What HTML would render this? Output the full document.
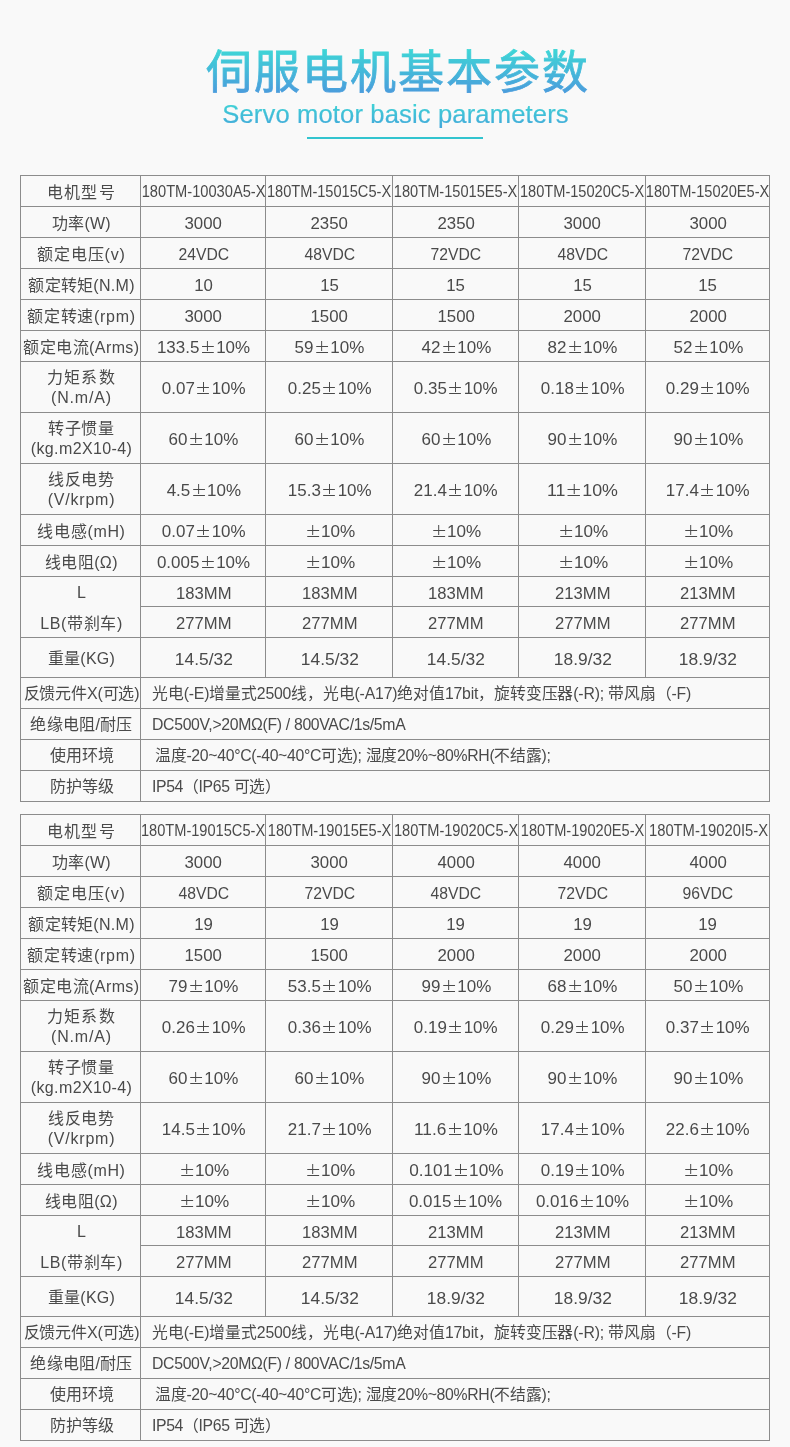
<!DOCTYPE html>
<html lang="zh-CN"><head><meta charset="utf-8">
<style>
html,body{margin:0;padding:0;}
main{position:absolute;left:0;top:0;width:790px;height:1447px;will-change:transform;}
body{width:790px;height:1447px;overflow:hidden;background:#f9f9f9;position:relative;font-family:"Liberation Sans",sans-serif;color:#4a4a4a;}
i{position:absolute;display:block;background:#8c8c8c;}
div{position:absolute;display:flex;align-items:center;justify-content:center;text-align:center;white-space:nowrap;box-sizing:border-box;}
div p{margin:0;}
div.d,div.m{padding-left:2px;}
div.h,div.lb{font-size:16px;line-height:21.5px;padding-top:4px;padding-left:3px;}
div.hb{padding-top:2px;font-size:16px;}
div.wd{padding-top:3px;}
div.h2{padding-top:2.3px;line-height:19.9px;}
div.d{font-size:17.3px;line-height:20px;padding-top:3px;}
div span.s{display:inline-block;transform-origin:50% 50%;}
div.m{font-size:16px;line-height:20px;padding-top:2px;}
div.wd{font-size:15.8px;line-height:20px;justify-content:flex-start;text-align:left;padding-left:12px;}
div.lb{line-height:31px;padding-top:3px;}
div.w2{padding-left:15px;}
b.pm{display:inline-block;width:16.85px;height:14px;vertical-align:-1px;
 background:linear-gradient(#4a4a4a,#4a4a4a) 8px 1px/1.2px 10px no-repeat,
 linear-gradient(#4a4a4a,#4a4a4a) 2.5px 5.5px/12px 1.2px no-repeat,
 linear-gradient(#4a4a4a,#4a4a4a) 2.5px 12px/12px 1.4px no-repeat;}
svg.tt{position:absolute;left:0;top:0;font-family:"Liberation Sans",sans-serif;}
.ul{position:absolute;left:307px;top:137px;width:176px;height:2px;background:#32c4cf;}
</style></head><body>
<main>
<svg class="tt" width="790" height="150" viewBox="0 0 790 150">
<defs>
<linearGradient id="g1" x1="0" y1="48" x2="0" y2="93" gradientUnits="userSpaceOnUse"><stop offset="0" stop-color="#3ed8d6"/><stop offset="1" stop-color="#4a9cdc"/></linearGradient>
<linearGradient id="g2" x1="0" y1="105" x2="0" y2="128" gradientUnits="userSpaceOnUse"><stop offset="0" stop-color="#3fd0d6"/><stop offset="1" stop-color="#43a6da"/></linearGradient>
</defs>
<text x="398.2" y="87.7" text-anchor="middle" font-size="46" letter-spacing="1.95" fill="url(#g1)" stroke="url(#g1)" stroke-width="0.8">伺服电机基本参数</text>
<text x="395.5" y="123.4" text-anchor="middle" font-size="25.6" letter-spacing="0.13" fill="url(#g2)" stroke="url(#g2)" stroke-width="0.2">Servo motor basic parameters</text>
</svg>
<b class="ul"></b>
<i style="left:20px;top:175px;width:750px;height:1px"></i>
<i style="left:20px;top:206px;width:750px;height:1px"></i>
<i style="left:20px;top:237px;width:750px;height:1px"></i>
<i style="left:20px;top:268px;width:750px;height:1px"></i>
<i style="left:20px;top:299px;width:750px;height:1px"></i>
<i style="left:20px;top:330px;width:750px;height:1px"></i>
<i style="left:20px;top:361px;width:750px;height:1px"></i>
<i style="left:20px;top:412px;width:750px;height:1px"></i>
<i style="left:20px;top:463px;width:750px;height:1px"></i>
<i style="left:20px;top:514px;width:750px;height:1px"></i>
<i style="left:20px;top:545px;width:750px;height:1px"></i>
<i style="left:20px;top:576px;width:750px;height:1px"></i>
<i style="left:140px;top:606px;width:630px;height:1px"></i>
<i style="left:20px;top:637px;width:750px;height:1px"></i>
<i style="left:20px;top:677px;width:750px;height:1px"></i>
<i style="left:20px;top:708px;width:750px;height:1px"></i>
<i style="left:20px;top:739px;width:750px;height:1px"></i>
<i style="left:20px;top:770px;width:750px;height:1px"></i>
<i style="left:20px;top:801px;width:750px;height:1px"></i>
<i style="left:20px;top:175px;width:1px;height:627px"></i>
<i style="left:769px;top:175px;width:1px;height:627px"></i>
<i style="left:140px;top:175px;width:1px;height:627px"></i>
<i style="left:265px;top:175px;width:1px;height:503px"></i>
<i style="left:392px;top:175px;width:1px;height:503px"></i>
<i style="left:518px;top:175px;width:1px;height:503px"></i>
<i style="left:645px;top:175px;width:1px;height:503px"></i>
<i style="left:20px;top:814px;width:750px;height:1px"></i>
<i style="left:20px;top:845px;width:750px;height:1px"></i>
<i style="left:20px;top:876px;width:750px;height:1px"></i>
<i style="left:20px;top:907px;width:750px;height:1px"></i>
<i style="left:20px;top:938px;width:750px;height:1px"></i>
<i style="left:20px;top:969px;width:750px;height:1px"></i>
<i style="left:20px;top:1000px;width:750px;height:1px"></i>
<i style="left:20px;top:1051px;width:750px;height:1px"></i>
<i style="left:20px;top:1102px;width:750px;height:1px"></i>
<i style="left:20px;top:1153px;width:750px;height:1px"></i>
<i style="left:20px;top:1184px;width:750px;height:1px"></i>
<i style="left:20px;top:1215px;width:750px;height:1px"></i>
<i style="left:140px;top:1245px;width:630px;height:1px"></i>
<i style="left:20px;top:1276px;width:750px;height:1px"></i>
<i style="left:20px;top:1316px;width:750px;height:1px"></i>
<i style="left:20px;top:1347px;width:750px;height:1px"></i>
<i style="left:20px;top:1378px;width:750px;height:1px"></i>
<i style="left:20px;top:1409px;width:750px;height:1px"></i>
<i style="left:20px;top:1440px;width:750px;height:1px"></i>
<i style="left:20px;top:814px;width:1px;height:627px"></i>
<i style="left:769px;top:814px;width:1px;height:627px"></i>
<i style="left:140px;top:814px;width:1px;height:627px"></i>
<i style="left:265px;top:814px;width:1px;height:503px"></i>
<i style="left:392px;top:814px;width:1px;height:503px"></i>
<i style="left:518px;top:814px;width:1px;height:503px"></i>
<i style="left:645px;top:814px;width:1px;height:503px"></i>
<div class="h" style="left:20px;top:175px;width:120px;height:31px"><p><span style="letter-spacing:1.434px">电机型号</span></p></div>
<div class="m" style="left:140px;top:175px;width:125px;height:31px"><p><span class="s" style="transform:scaleX(0.9156)">180TM-10030A5-X</span></p></div>
<div class="m" style="left:265px;top:175px;width:127px;height:31px"><p><span class="s" style="transform:scaleX(0.9128)">180TM-15015C5-X</span></p></div>
<div class="m" style="left:392px;top:175px;width:126px;height:31px"><p><span class="s" style="transform:scaleX(0.9134)">180TM-15015E5-X</span></p></div>
<div class="m" style="left:518px;top:175px;width:127px;height:31px"><p><span class="s" style="transform:scaleX(0.9128)">180TM-15020C5-X</span></p></div>
<div class="m" style="left:645px;top:175px;width:124px;height:31px"><p><span class="s" style="transform:scaleX(0.9134)">180TM-15020E5-X</span></p></div>
<div class="h" style="left:20px;top:206px;width:120px;height:31px"><p><span style="letter-spacing:0.122px">功率(W)</span></p></div>
<div class="d" style="left:140px;top:206px;width:125px;height:31px"><p><span class="s" style="transform:scaleX(0.9728)">3000</span></p></div>
<div class="d" style="left:265px;top:206px;width:127px;height:31px"><p><span class="s" style="transform:scaleX(0.9728)">2350</span></p></div>
<div class="d" style="left:392px;top:206px;width:126px;height:31px"><p><span class="s" style="transform:scaleX(0.9728)">2350</span></p></div>
<div class="d" style="left:518px;top:206px;width:127px;height:31px"><p><span class="s" style="transform:scaleX(0.9728)">3000</span></p></div>
<div class="d" style="left:645px;top:206px;width:124px;height:31px"><p><span class="s" style="transform:scaleX(0.9728)">3000</span></p></div>
<div class="h" style="left:20px;top:237px;width:120px;height:31px"><p><span style="letter-spacing:0.823px">额定电压(v)</span></p></div>
<div class="d" style="left:140px;top:237px;width:125px;height:31px"><p><span class="s" style="transform:scaleX(0.9103)">24VDC</span></p></div>
<div class="d" style="left:265px;top:237px;width:127px;height:31px"><p><span class="s" style="transform:scaleX(0.9103)">48VDC</span></p></div>
<div class="d" style="left:392px;top:237px;width:126px;height:31px"><p><span class="s" style="transform:scaleX(0.9103)">72VDC</span></p></div>
<div class="d" style="left:518px;top:237px;width:127px;height:31px"><p><span class="s" style="transform:scaleX(0.9103)">48VDC</span></p></div>
<div class="d" style="left:645px;top:237px;width:124px;height:31px"><p><span class="s" style="transform:scaleX(0.9103)">72VDC</span></p></div>
<div class="h" style="left:20px;top:268px;width:120px;height:31px"><p><span style="letter-spacing:0.283px">额定转矩(N.M)</span></p></div>
<div class="d" style="left:140px;top:268px;width:125px;height:31px"><p><span class="s" style="transform:scaleX(0.9724)">10</span></p></div>
<div class="d" style="left:265px;top:268px;width:127px;height:31px"><p><span class="s" style="transform:scaleX(0.9724)">15</span></p></div>
<div class="d" style="left:392px;top:268px;width:126px;height:31px"><p><span class="s" style="transform:scaleX(0.9724)">15</span></p></div>
<div class="d" style="left:518px;top:268px;width:127px;height:31px"><p><span class="s" style="transform:scaleX(0.9724)">15</span></p></div>
<div class="d" style="left:645px;top:268px;width:124px;height:31px"><p><span class="s" style="transform:scaleX(0.9724)">15</span></p></div>
<div class="h" style="left:20px;top:299px;width:120px;height:31px"><p><span style="letter-spacing:0.694px">额定转速(rpm)</span></p></div>
<div class="d" style="left:140px;top:299px;width:125px;height:31px"><p><span class="s" style="transform:scaleX(0.9728)">3000</span></p></div>
<div class="d" style="left:265px;top:299px;width:127px;height:31px"><p><span class="s" style="transform:scaleX(0.9728)">1500</span></p></div>
<div class="d" style="left:392px;top:299px;width:126px;height:31px"><p><span class="s" style="transform:scaleX(0.9728)">1500</span></p></div>
<div class="d" style="left:518px;top:299px;width:127px;height:31px"><p><span class="s" style="transform:scaleX(0.9728)">2000</span></p></div>
<div class="d" style="left:645px;top:299px;width:124px;height:31px"><p><span class="s" style="transform:scaleX(0.9728)">2000</span></p></div>
<div class="h" style="left:20px;top:330px;width:120px;height:31px"><p><span style="letter-spacing:0.408px">额定电流(Arms)</span></p></div>
<div class="d" style="left:140px;top:330px;width:125px;height:31px"><p><span class="s" style="transform:scaleX(0.9801)">133.5<b class="pm" style="width:17.19px"></b>10%</span></p></div>
<div class="d" style="left:265px;top:330px;width:127px;height:31px"><p><span class="s" style="transform:scaleX(0.9834)">59<b class="pm" style="width:17.13px"></b>10%</span></p></div>
<div class="d" style="left:392px;top:330px;width:126px;height:31px"><p><span class="s" style="transform:scaleX(0.9834)">42<b class="pm" style="width:17.13px"></b>10%</span></p></div>
<div class="d" style="left:518px;top:330px;width:127px;height:31px"><p><span class="s" style="transform:scaleX(0.9834)">82<b class="pm" style="width:17.13px"></b>10%</span></p></div>
<div class="d" style="left:645px;top:330px;width:124px;height:31px"><p><span class="s" style="transform:scaleX(0.9834)">52<b class="pm" style="width:17.13px"></b>10%</span></p></div>
<div class="h h2" style="left:20px;top:361px;width:120px;height:51px"><p><span style="letter-spacing:1.267px">力矩系数</span><br><span style="letter-spacing:0.810px">(N.m/A)</span></p></div>
<div class="d" style="left:140px;top:361px;width:125px;height:51px"><p><span class="s" style="transform:scaleX(0.9810)">0.07<b class="pm" style="width:17.18px"></b>10%</span></p></div>
<div class="d" style="left:265px;top:361px;width:127px;height:51px"><p><span class="s" style="transform:scaleX(0.9810)">0.25<b class="pm" style="width:17.18px"></b>10%</span></p></div>
<div class="d" style="left:392px;top:361px;width:126px;height:51px"><p><span class="s" style="transform:scaleX(0.9810)">0.35<b class="pm" style="width:17.18px"></b>10%</span></p></div>
<div class="d" style="left:518px;top:361px;width:127px;height:51px"><p><span class="s" style="transform:scaleX(0.9810)">0.18<b class="pm" style="width:17.18px"></b>10%</span></p></div>
<div class="d" style="left:645px;top:361px;width:124px;height:51px"><p><span class="s" style="transform:scaleX(0.9810)">0.29<b class="pm" style="width:17.18px"></b>10%</span></p></div>
<div class="h h2" style="left:20px;top:412px;width:120px;height:51px"><p><span style="letter-spacing:0.601px">转子惯量</span><br><span style="letter-spacing:0.391px">(kg.m2X10-4)</span></p></div>
<div class="d" style="left:140px;top:412px;width:125px;height:51px"><p><span class="s" style="transform:scaleX(0.9834)">60<b class="pm" style="width:17.13px"></b>10%</span></p></div>
<div class="d" style="left:265px;top:412px;width:127px;height:51px"><p><span class="s" style="transform:scaleX(0.9834)">60<b class="pm" style="width:17.13px"></b>10%</span></p></div>
<div class="d" style="left:392px;top:412px;width:126px;height:51px"><p><span class="s" style="transform:scaleX(0.9834)">60<b class="pm" style="width:17.13px"></b>10%</span></p></div>
<div class="d" style="left:518px;top:412px;width:127px;height:51px"><p><span class="s" style="transform:scaleX(0.9834)">90<b class="pm" style="width:17.13px"></b>10%</span></p></div>
<div class="d" style="left:645px;top:412px;width:124px;height:51px"><p><span class="s" style="transform:scaleX(0.9834)">90<b class="pm" style="width:17.13px"></b>10%</span></p></div>
<div class="h h2" style="left:20px;top:463px;width:120px;height:51px"><p><span style="letter-spacing:0.834px">线反电势</span><br><span style="letter-spacing:0.789px">(V/krpm)</span></p></div>
<div class="d" style="left:140px;top:463px;width:125px;height:51px"><p><span class="s" style="transform:scaleX(0.9824)">4.5<b class="pm" style="width:17.15px"></b>10%</span></p></div>
<div class="d" style="left:265px;top:463px;width:127px;height:51px"><p><span class="s" style="transform:scaleX(0.9810)">15.3<b class="pm" style="width:17.18px"></b>10%</span></p></div>
<div class="d" style="left:392px;top:463px;width:126px;height:51px"><p><span class="s" style="transform:scaleX(0.9810)">21.4<b class="pm" style="width:17.18px"></b>10%</span></p></div>
<div class="d" style="left:518px;top:463px;width:127px;height:51px"><p><span class="s" style="transform:scaleX(1.0326)">11<b class="pm" style="width:16.32px"></b>10%</span></p></div>
<div class="d" style="left:645px;top:463px;width:124px;height:51px"><p><span class="s" style="transform:scaleX(0.9810)">17.4<b class="pm" style="width:17.18px"></b>10%</span></p></div>
<div class="h" style="left:20px;top:514px;width:120px;height:31px"><p><span style="letter-spacing:0.666px">线电感(mH)</span></p></div>
<div class="d" style="left:140px;top:514px;width:125px;height:31px"><p><span class="s" style="transform:scaleX(0.9810)">0.07<b class="pm" style="width:17.18px"></b>10%</span></p></div>
<div class="d" style="left:265px;top:514px;width:127px;height:31px"><p><span class="s" style="transform:scaleX(0.9892)"><b class="pm" style="width:17.03px"></b>10%</span></p></div>
<div class="d" style="left:392px;top:514px;width:126px;height:31px"><p><span class="s" style="transform:scaleX(0.9892)"><b class="pm" style="width:17.03px"></b>10%</span></p></div>
<div class="d" style="left:518px;top:514px;width:127px;height:31px"><p><span class="s" style="transform:scaleX(0.9892)"><b class="pm" style="width:17.03px"></b>10%</span></p></div>
<div class="d" style="left:645px;top:514px;width:124px;height:31px"><p><span class="s" style="transform:scaleX(0.9892)"><b class="pm" style="width:17.03px"></b>10%</span></p></div>
<div class="h" style="left:20px;top:545px;width:120px;height:31px"><p><span style="letter-spacing:0.354px">线电阻(Ω)</span></p></div>
<div class="d" style="left:140px;top:545px;width:125px;height:31px"><p><span class="s" style="transform:scaleX(0.9801)">0.005<b class="pm" style="width:17.19px"></b>10%</span></p></div>
<div class="d" style="left:265px;top:545px;width:127px;height:31px"><p><span class="s" style="transform:scaleX(0.9892)"><b class="pm" style="width:17.03px"></b>10%</span></p></div>
<div class="d" style="left:392px;top:545px;width:126px;height:31px"><p><span class="s" style="transform:scaleX(0.9892)"><b class="pm" style="width:17.03px"></b>10%</span></p></div>
<div class="d" style="left:518px;top:545px;width:127px;height:31px"><p><span class="s" style="transform:scaleX(0.9892)"><b class="pm" style="width:17.03px"></b>10%</span></p></div>
<div class="d" style="left:645px;top:545px;width:124px;height:31px"><p><span class="s" style="transform:scaleX(0.9892)"><b class="pm" style="width:17.03px"></b>10%</span></p></div>
<div class="lb" style="left:20px;top:576px;width:120px;height:61px"><p><span style="letter-spacing:0.094px">L</span><br><span style="letter-spacing:0.637px">LB(带刹车)</span></p></div>
<div class="d" style="left:140px;top:576px;width:125px;height:30px"><p><span class="s" style="transform:scaleX(0.9615)">183MM</span></p></div>
<div class="d" style="left:265px;top:576px;width:127px;height:30px"><p><span class="s" style="transform:scaleX(0.9615)">183MM</span></p></div>
<div class="d" style="left:392px;top:576px;width:126px;height:30px"><p><span class="s" style="transform:scaleX(0.9615)">183MM</span></p></div>
<div class="d" style="left:518px;top:576px;width:127px;height:30px"><p><span class="s" style="transform:scaleX(0.9615)">213MM</span></p></div>
<div class="d" style="left:645px;top:576px;width:124px;height:30px"><p><span class="s" style="transform:scaleX(0.9615)">213MM</span></p></div>
<div class="d" style="left:140px;top:606px;width:125px;height:31px"><p><span class="s" style="transform:scaleX(0.9615)">277MM</span></p></div>
<div class="d" style="left:265px;top:606px;width:127px;height:31px"><p><span class="s" style="transform:scaleX(0.9615)">277MM</span></p></div>
<div class="d" style="left:392px;top:606px;width:126px;height:31px"><p><span class="s" style="transform:scaleX(0.9615)">277MM</span></p></div>
<div class="d" style="left:518px;top:606px;width:127px;height:31px"><p><span class="s" style="transform:scaleX(0.9615)">277MM</span></p></div>
<div class="d" style="left:645px;top:606px;width:124px;height:31px"><p><span class="s" style="transform:scaleX(0.9615)">277MM</span></p></div>
<div class="h" style="left:20px;top:637px;width:120px;height:40px"><p><span style="letter-spacing:0.234px">重量(KG)</span></p></div>
<div class="d" style="left:140px;top:637px;width:125px;height:40px"><p><span class="s" style="transform:scaleX(1.0062)">14.5/32</span></p></div>
<div class="d" style="left:265px;top:637px;width:127px;height:40px"><p><span class="s" style="transform:scaleX(1.0062)">14.5/32</span></p></div>
<div class="d" style="left:392px;top:637px;width:126px;height:40px"><p><span class="s" style="transform:scaleX(1.0062)">14.5/32</span></p></div>
<div class="d" style="left:518px;top:637px;width:127px;height:40px"><p><span class="s" style="transform:scaleX(1.0062)">18.9/32</span></p></div>
<div class="d" style="left:645px;top:637px;width:124px;height:40px"><p><span class="s" style="transform:scaleX(1.0062)">18.9/32</span></p></div>
<div class="hb h" style="left:20px;top:677px;width:120px;height:31px"><p><span style="letter-spacing:-0.149px">反馈元件X(可选)</span></p></div>
<div class="wd w0" style="left:140px;top:677px;width:629px;height:31px"><p><span style="letter-spacing:-0.172px">光电(-E)增量式2500线，光电(-A17)绝对值17bit，旋转变压器(-R); 带风扇（-F)</span></p></div>
<div class="hb h" style="left:20px;top:708px;width:120px;height:31px"><p><span style="letter-spacing:0.261px">绝缘电阻/耐压</span></p></div>
<div class="wd w1" style="left:140px;top:708px;width:629px;height:31px"><p><span style="letter-spacing:-0.323px">DC500V,&gt;20MΩ(F) / 800VAC/1s/5mA</span></p></div>
<div class="hb h" style="left:20px;top:739px;width:120px;height:31px"><p><span>使用环境</span></p></div>
<div class="wd w2" style="left:140px;top:739px;width:629px;height:31px"><p><span style="letter-spacing:-0.310px">温度-20~40°C(-40~40°C可选); 湿度20%~80%RH(不结露);</span></p></div>
<div class="hb h" style="left:20px;top:770px;width:120px;height:31px"><p><span>防护等级</span></p></div>
<div class="wd w3" style="left:140px;top:770px;width:629px;height:31px"><p><span style="letter-spacing:-0.380px">IP54（IP65 可选）</span></p></div>
<div class="h" style="left:20px;top:814px;width:120px;height:31px"><p><span style="letter-spacing:1.434px">电机型号</span></p></div>
<div class="m" style="left:140px;top:814px;width:125px;height:31px"><p><span class="s" style="transform:scaleX(0.9128)">180TM-19015C5-X</span></p></div>
<div class="m" style="left:265px;top:814px;width:127px;height:31px"><p><span class="s" style="transform:scaleX(0.9134)">180TM-19015E5-X</span></p></div>
<div class="m" style="left:392px;top:814px;width:126px;height:31px"><p><span class="s" style="transform:scaleX(0.9128)">180TM-19020C5-X</span></p></div>
<div class="m" style="left:518px;top:814px;width:127px;height:31px"><p><span class="s" style="transform:scaleX(0.9134)">180TM-19020E5-X</span></p></div>
<div class="m" style="left:645px;top:814px;width:124px;height:31px"><p><span class="s" style="transform:scaleX(0.9231)">180TM-19020I5-X</span></p></div>
<div class="h" style="left:20px;top:845px;width:120px;height:31px"><p><span style="letter-spacing:0.122px">功率(W)</span></p></div>
<div class="d" style="left:140px;top:845px;width:125px;height:31px"><p><span class="s" style="transform:scaleX(0.9728)">3000</span></p></div>
<div class="d" style="left:265px;top:845px;width:127px;height:31px"><p><span class="s" style="transform:scaleX(0.9728)">3000</span></p></div>
<div class="d" style="left:392px;top:845px;width:126px;height:31px"><p><span class="s" style="transform:scaleX(0.9728)">4000</span></p></div>
<div class="d" style="left:518px;top:845px;width:127px;height:31px"><p><span class="s" style="transform:scaleX(0.9728)">4000</span></p></div>
<div class="d" style="left:645px;top:845px;width:124px;height:31px"><p><span class="s" style="transform:scaleX(0.9728)">4000</span></p></div>
<div class="h" style="left:20px;top:876px;width:120px;height:31px"><p><span style="letter-spacing:0.823px">额定电压(v)</span></p></div>
<div class="d" style="left:140px;top:876px;width:125px;height:31px"><p><span class="s" style="transform:scaleX(0.9103)">48VDC</span></p></div>
<div class="d" style="left:265px;top:876px;width:127px;height:31px"><p><span class="s" style="transform:scaleX(0.9103)">72VDC</span></p></div>
<div class="d" style="left:392px;top:876px;width:126px;height:31px"><p><span class="s" style="transform:scaleX(0.9103)">48VDC</span></p></div>
<div class="d" style="left:518px;top:876px;width:127px;height:31px"><p><span class="s" style="transform:scaleX(0.9103)">72VDC</span></p></div>
<div class="d" style="left:645px;top:876px;width:124px;height:31px"><p><span class="s" style="transform:scaleX(0.9103)">96VDC</span></p></div>
<div class="h" style="left:20px;top:907px;width:120px;height:31px"><p><span style="letter-spacing:0.283px">额定转矩(N.M)</span></p></div>
<div class="d" style="left:140px;top:907px;width:125px;height:31px"><p><span class="s" style="transform:scaleX(0.9724)">19</span></p></div>
<div class="d" style="left:265px;top:907px;width:127px;height:31px"><p><span class="s" style="transform:scaleX(0.9724)">19</span></p></div>
<div class="d" style="left:392px;top:907px;width:126px;height:31px"><p><span class="s" style="transform:scaleX(0.9724)">19</span></p></div>
<div class="d" style="left:518px;top:907px;width:127px;height:31px"><p><span class="s" style="transform:scaleX(0.9724)">19</span></p></div>
<div class="d" style="left:645px;top:907px;width:124px;height:31px"><p><span class="s" style="transform:scaleX(0.9724)">19</span></p></div>
<div class="h" style="left:20px;top:938px;width:120px;height:31px"><p><span style="letter-spacing:0.694px">额定转速(rpm)</span></p></div>
<div class="d" style="left:140px;top:938px;width:125px;height:31px"><p><span class="s" style="transform:scaleX(0.9728)">1500</span></p></div>
<div class="d" style="left:265px;top:938px;width:127px;height:31px"><p><span class="s" style="transform:scaleX(0.9728)">1500</span></p></div>
<div class="d" style="left:392px;top:938px;width:126px;height:31px"><p><span class="s" style="transform:scaleX(0.9728)">2000</span></p></div>
<div class="d" style="left:518px;top:938px;width:127px;height:31px"><p><span class="s" style="transform:scaleX(0.9728)">2000</span></p></div>
<div class="d" style="left:645px;top:938px;width:124px;height:31px"><p><span class="s" style="transform:scaleX(0.9728)">2000</span></p></div>
<div class="h" style="left:20px;top:969px;width:120px;height:31px"><p><span style="letter-spacing:0.408px">额定电流(Arms)</span></p></div>
<div class="d" style="left:140px;top:969px;width:125px;height:31px"><p><span class="s" style="transform:scaleX(0.9834)">79<b class="pm" style="width:17.13px"></b>10%</span></p></div>
<div class="d" style="left:265px;top:969px;width:127px;height:31px"><p><span class="s" style="transform:scaleX(0.9810)">53.5<b class="pm" style="width:17.18px"></b>10%</span></p></div>
<div class="d" style="left:392px;top:969px;width:126px;height:31px"><p><span class="s" style="transform:scaleX(0.9834)">99<b class="pm" style="width:17.13px"></b>10%</span></p></div>
<div class="d" style="left:518px;top:969px;width:127px;height:31px"><p><span class="s" style="transform:scaleX(0.9834)">68<b class="pm" style="width:17.13px"></b>10%</span></p></div>
<div class="d" style="left:645px;top:969px;width:124px;height:31px"><p><span class="s" style="transform:scaleX(0.9834)">50<b class="pm" style="width:17.13px"></b>10%</span></p></div>
<div class="h h2" style="left:20px;top:1000px;width:120px;height:51px"><p><span style="letter-spacing:1.267px">力矩系数</span><br><span style="letter-spacing:0.810px">(N.m/A)</span></p></div>
<div class="d" style="left:140px;top:1000px;width:125px;height:51px"><p><span class="s" style="transform:scaleX(0.9810)">0.26<b class="pm" style="width:17.18px"></b>10%</span></p></div>
<div class="d" style="left:265px;top:1000px;width:127px;height:51px"><p><span class="s" style="transform:scaleX(0.9810)">0.36<b class="pm" style="width:17.18px"></b>10%</span></p></div>
<div class="d" style="left:392px;top:1000px;width:126px;height:51px"><p><span class="s" style="transform:scaleX(0.9810)">0.19<b class="pm" style="width:17.18px"></b>10%</span></p></div>
<div class="d" style="left:518px;top:1000px;width:127px;height:51px"><p><span class="s" style="transform:scaleX(0.9810)">0.29<b class="pm" style="width:17.18px"></b>10%</span></p></div>
<div class="d" style="left:645px;top:1000px;width:124px;height:51px"><p><span class="s" style="transform:scaleX(0.9810)">0.37<b class="pm" style="width:17.18px"></b>10%</span></p></div>
<div class="h h2" style="left:20px;top:1051px;width:120px;height:51px"><p><span style="letter-spacing:0.601px">转子惯量</span><br><span style="letter-spacing:0.391px">(kg.m2X10-4)</span></p></div>
<div class="d" style="left:140px;top:1051px;width:125px;height:51px"><p><span class="s" style="transform:scaleX(0.9834)">60<b class="pm" style="width:17.13px"></b>10%</span></p></div>
<div class="d" style="left:265px;top:1051px;width:127px;height:51px"><p><span class="s" style="transform:scaleX(0.9834)">60<b class="pm" style="width:17.13px"></b>10%</span></p></div>
<div class="d" style="left:392px;top:1051px;width:126px;height:51px"><p><span class="s" style="transform:scaleX(0.9834)">90<b class="pm" style="width:17.13px"></b>10%</span></p></div>
<div class="d" style="left:518px;top:1051px;width:127px;height:51px"><p><span class="s" style="transform:scaleX(0.9834)">90<b class="pm" style="width:17.13px"></b>10%</span></p></div>
<div class="d" style="left:645px;top:1051px;width:124px;height:51px"><p><span class="s" style="transform:scaleX(0.9834)">90<b class="pm" style="width:17.13px"></b>10%</span></p></div>
<div class="h h2" style="left:20px;top:1102px;width:120px;height:51px"><p><span style="letter-spacing:0.834px">线反电势</span><br><span style="letter-spacing:0.789px">(V/krpm)</span></p></div>
<div class="d" style="left:140px;top:1102px;width:125px;height:51px"><p><span class="s" style="transform:scaleX(0.9810)">14.5<b class="pm" style="width:17.18px"></b>10%</span></p></div>
<div class="d" style="left:265px;top:1102px;width:127px;height:51px"><p><span class="s" style="transform:scaleX(0.9810)">21.7<b class="pm" style="width:17.18px"></b>10%</span></p></div>
<div class="d" style="left:392px;top:1102px;width:126px;height:51px"><p><span class="s" style="transform:scaleX(0.9998)">11.6<b class="pm" style="width:16.85px"></b>10%</span></p></div>
<div class="d" style="left:518px;top:1102px;width:127px;height:51px"><p><span class="s" style="transform:scaleX(0.9810)">17.4<b class="pm" style="width:17.18px"></b>10%</span></p></div>
<div class="d" style="left:645px;top:1102px;width:124px;height:51px"><p><span class="s" style="transform:scaleX(0.9810)">22.6<b class="pm" style="width:17.18px"></b>10%</span></p></div>
<div class="h" style="left:20px;top:1153px;width:120px;height:31px"><p><span style="letter-spacing:0.666px">线电感(mH)</span></p></div>
<div class="d" style="left:140px;top:1153px;width:125px;height:31px"><p><span class="s" style="transform:scaleX(0.9892)"><b class="pm" style="width:17.03px"></b>10%</span></p></div>
<div class="d" style="left:265px;top:1153px;width:127px;height:31px"><p><span class="s" style="transform:scaleX(0.9892)"><b class="pm" style="width:17.03px"></b>10%</span></p></div>
<div class="d" style="left:392px;top:1153px;width:126px;height:31px"><p><span class="s" style="transform:scaleX(0.9965)">0.101<b class="pm" style="width:16.91px"></b>10%</span></p></div>
<div class="d" style="left:518px;top:1153px;width:127px;height:31px"><p><span class="s" style="transform:scaleX(0.9810)">0.19<b class="pm" style="width:17.18px"></b>10%</span></p></div>
<div class="d" style="left:645px;top:1153px;width:124px;height:31px"><p><span class="s" style="transform:scaleX(0.9892)"><b class="pm" style="width:17.03px"></b>10%</span></p></div>
<div class="h" style="left:20px;top:1184px;width:120px;height:31px"><p><span style="letter-spacing:0.354px">线电阻(Ω)</span></p></div>
<div class="d" style="left:140px;top:1184px;width:125px;height:31px"><p><span class="s" style="transform:scaleX(0.9892)"><b class="pm" style="width:17.03px"></b>10%</span></p></div>
<div class="d" style="left:265px;top:1184px;width:127px;height:31px"><p><span class="s" style="transform:scaleX(0.9892)"><b class="pm" style="width:17.03px"></b>10%</span></p></div>
<div class="d" style="left:392px;top:1184px;width:126px;height:31px"><p><span class="s" style="transform:scaleX(0.9801)">0.015<b class="pm" style="width:17.19px"></b>10%</span></p></div>
<div class="d" style="left:518px;top:1184px;width:127px;height:31px"><p><span class="s" style="transform:scaleX(0.9801)">0.016<b class="pm" style="width:17.19px"></b>10%</span></p></div>
<div class="d" style="left:645px;top:1184px;width:124px;height:31px"><p><span class="s" style="transform:scaleX(0.9892)"><b class="pm" style="width:17.03px"></b>10%</span></p></div>
<div class="lb" style="left:20px;top:1215px;width:120px;height:61px"><p><span style="letter-spacing:0.094px">L</span><br><span style="letter-spacing:0.637px">LB(带刹车)</span></p></div>
<div class="d" style="left:140px;top:1215px;width:125px;height:30px"><p><span class="s" style="transform:scaleX(0.9615)">183MM</span></p></div>
<div class="d" style="left:265px;top:1215px;width:127px;height:30px"><p><span class="s" style="transform:scaleX(0.9615)">183MM</span></p></div>
<div class="d" style="left:392px;top:1215px;width:126px;height:30px"><p><span class="s" style="transform:scaleX(0.9615)">213MM</span></p></div>
<div class="d" style="left:518px;top:1215px;width:127px;height:30px"><p><span class="s" style="transform:scaleX(0.9615)">213MM</span></p></div>
<div class="d" style="left:645px;top:1215px;width:124px;height:30px"><p><span class="s" style="transform:scaleX(0.9615)">213MM</span></p></div>
<div class="d" style="left:140px;top:1245px;width:125px;height:31px"><p><span class="s" style="transform:scaleX(0.9615)">277MM</span></p></div>
<div class="d" style="left:265px;top:1245px;width:127px;height:31px"><p><span class="s" style="transform:scaleX(0.9615)">277MM</span></p></div>
<div class="d" style="left:392px;top:1245px;width:126px;height:31px"><p><span class="s" style="transform:scaleX(0.9615)">277MM</span></p></div>
<div class="d" style="left:518px;top:1245px;width:127px;height:31px"><p><span class="s" style="transform:scaleX(0.9615)">277MM</span></p></div>
<div class="d" style="left:645px;top:1245px;width:124px;height:31px"><p><span class="s" style="transform:scaleX(0.9615)">277MM</span></p></div>
<div class="h" style="left:20px;top:1276px;width:120px;height:40px"><p><span style="letter-spacing:0.234px">重量(KG)</span></p></div>
<div class="d" style="left:140px;top:1276px;width:125px;height:40px"><p><span class="s" style="transform:scaleX(1.0062)">14.5/32</span></p></div>
<div class="d" style="left:265px;top:1276px;width:127px;height:40px"><p><span class="s" style="transform:scaleX(1.0062)">14.5/32</span></p></div>
<div class="d" style="left:392px;top:1276px;width:126px;height:40px"><p><span class="s" style="transform:scaleX(1.0062)">18.9/32</span></p></div>
<div class="d" style="left:518px;top:1276px;width:127px;height:40px"><p><span class="s" style="transform:scaleX(1.0062)">18.9/32</span></p></div>
<div class="d" style="left:645px;top:1276px;width:124px;height:40px"><p><span class="s" style="transform:scaleX(1.0062)">18.9/32</span></p></div>
<div class="hb h" style="left:20px;top:1316px;width:120px;height:31px"><p><span style="letter-spacing:-0.149px">反馈元件X(可选)</span></p></div>
<div class="wd w0" style="left:140px;top:1316px;width:629px;height:31px"><p><span style="letter-spacing:-0.172px">光电(-E)增量式2500线，光电(-A17)绝对值17bit，旋转变压器(-R); 带风扇（-F)</span></p></div>
<div class="hb h" style="left:20px;top:1347px;width:120px;height:31px"><p><span style="letter-spacing:0.261px">绝缘电阻/耐压</span></p></div>
<div class="wd w1" style="left:140px;top:1347px;width:629px;height:31px"><p><span style="letter-spacing:-0.323px">DC500V,&gt;20MΩ(F) / 800VAC/1s/5mA</span></p></div>
<div class="hb h" style="left:20px;top:1378px;width:120px;height:31px"><p><span>使用环境</span></p></div>
<div class="wd w2" style="left:140px;top:1378px;width:629px;height:31px"><p><span style="letter-spacing:-0.310px">温度-20~40°C(-40~40°C可选); 湿度20%~80%RH(不结露);</span></p></div>
<div class="hb h" style="left:20px;top:1409px;width:120px;height:31px"><p><span>防护等级</span></p></div>
<div class="wd w3" style="left:140px;top:1409px;width:629px;height:31px"><p><span style="letter-spacing:-0.380px">IP54（IP65 可选）</span></p></div>
</main></body></html>
